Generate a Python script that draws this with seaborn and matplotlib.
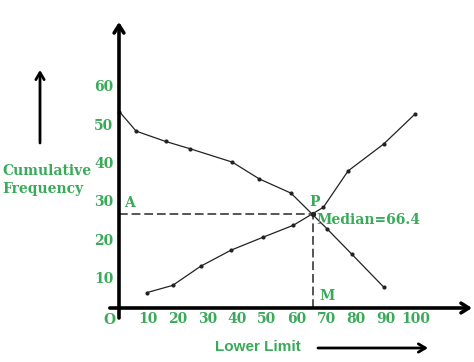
import matplotlib
matplotlib.use("Agg")
import matplotlib.pyplot as plt
import seaborn as sns

# ---- data ----
less_x = [9.7, 18.4, 27.8, 38.0, 48.8, 58.9, 69.0, 77.3, 89.2, 99.7]
less_y = [6.0, 7.9, 12.9, 17.1, 20.5, 23.6, 28.3, 37.8, 44.8, 52.6]
more_x = [0.5, 6.1, 16.0, 24.2, 38.4, 47.5, 58.1, 70.2, 78.6, 89.2]
more_y = [53.3, 48.2, 45.5, 43.6, 40.1, 35.7, 32.0, 22.7, 16.0, 7.5]
x_ticks = [10, 20, 30, 40, 50, 60, 70, 80, 90, 100]
y_ticks = [10, 20, 30, 40, 50, 60]
median_x = 65.6
half_n = 26.6
median_label = "Median=66.4"

GREEN = "#3aaa5a"
sns.set_style("white")
plt.rcParams['font.family'] = ['DejaVu Serif']

W, H = 474, 362
fig = plt.figure(figsize=(W / 100, H / 100), dpi=100)
# axes frame: left edge = y axis (px 119), bottom = x axis (px 308), top = arrow tip (px 22), right = arrow tip (px 472)
ax = fig.add_axes([119 / W, (H - 308) / H, (472 - 119) / W, (308 - 22) / H])
ax.set_xlim(0.37, 118.9)
ax.set_ylim(1.99, 76.7)
for s in ax.spines.values():
    s.set_visible(False)
ax.grid(False)
ax.patch.set_alpha(0)

# axes with arrows
arrow_kw = dict(arrowstyle="->,head_length=0.55,head_width=0.35", lw=2.6, color="black",
                shrinkA=0, shrinkB=0)
ax.annotate("", xy=(0, 1), xycoords="axes fraction", xytext=(0, -0.035),
            textcoords="axes fraction", arrowprops=arrow_kw, annotation_clip=False)
ax.annotate("", xy=(1, 0), xycoords="axes fraction", xytext=(-0.026, 0),
            textcoords="axes fraction", arrowprops=arrow_kw, annotation_clip=False)

# ticks
ax.set_xticks(x_ticks)
ax.set_xticklabels([str(v) for v in x_ticks])
ax.set_yticks(y_ticks)
ax.set_yticklabels([str(v) for v in y_ticks])
ax.tick_params(axis="both", length=0, colors=GREEN, labelsize=10)
ax.tick_params(axis="x", pad=3)
ax.tick_params(axis="y", pad=4)
for lab in ax.get_xticklabels() + ax.get_yticklabels():
    lab.set_fontweight("bold")

# curves
sns.lineplot(x=less_x, y=less_y, ax=ax, color="#222222", lw=0.9, marker="o",
             markersize=3, markeredgewidth=0, sort=False, clip_on=False)
sns.lineplot(x=more_x, y=more_y, ax=ax, color="#222222", lw=0.9, marker="o",
             markersize=3, markeredgewidth=0, sort=False, clip_on=False)

# dashed median lines
ax.plot([0.37, median_x], [half_n, half_n], ls=(0, (4.5, 2)), color="#555555", lw=1.4)
ax.plot([median_x, median_x], [1.99, half_n], ls=(0, (4.5, 2)), color="#555555", lw=1.4)
ax.scatter([median_x], [half_n], s=8, color="#222222", zorder=5)

txt = dict(color=GREEN, fontweight="bold", fontsize=10)
ax.text(median_x + 0.3, half_n + 1.3, "P", ha="center", va="bottom", **txt)
ax.text(median_x + 1.2, half_n - 1.6, median_label, ha="left", va="center", **txt)
ax.text(3.8, half_n + 2.8, "A", ha="center", va="center", **txt)
ax.text(median_x + 4.5, 5.0, "M", ha="center", va="center", **txt)
ax.text(-3.0, -1.2, "O", ha="center", va="center", clip_on=False, **txt)

# axis titles
fig.text(2 / W, 1 - 171 / H, "Cumulative", ha="left", va="center", **txt)
fig.text(2 / W, 1 - 189 / H, "Frequency", ha="left", va="center", **txt)
fig.text(215 / W, 1 - 347 / H, "Lower Limit", ha="left", va="center", color=GREEN,
         fontweight="bold", fontsize=11, family=["Liberation Sans", "DejaVu Sans"])

# direction arrows
small_arrow = dict(arrowstyle="->,head_length=0.5,head_width=0.3", lw=2.0, color="black",
                   shrinkA=0, shrinkB=0)
fig.patches  # keep reference
ann = ax.annotate("", xy=(428 / W, 1 - 348 / H), xycoords="figure fraction",
                  xytext=(318 / W, 1 - 348 / H), textcoords="figure fraction",
                  arrowprops=small_arrow, annotation_clip=False)
ax.annotate("", xy=(40 / W, 1 - 70 / H), xycoords="figure fraction",
            xytext=(40 / W, 1 - 143 / H), textcoords="figure fraction",
            arrowprops=small_arrow, annotation_clip=False)

fig.savefig("out.png", dpi=100)
